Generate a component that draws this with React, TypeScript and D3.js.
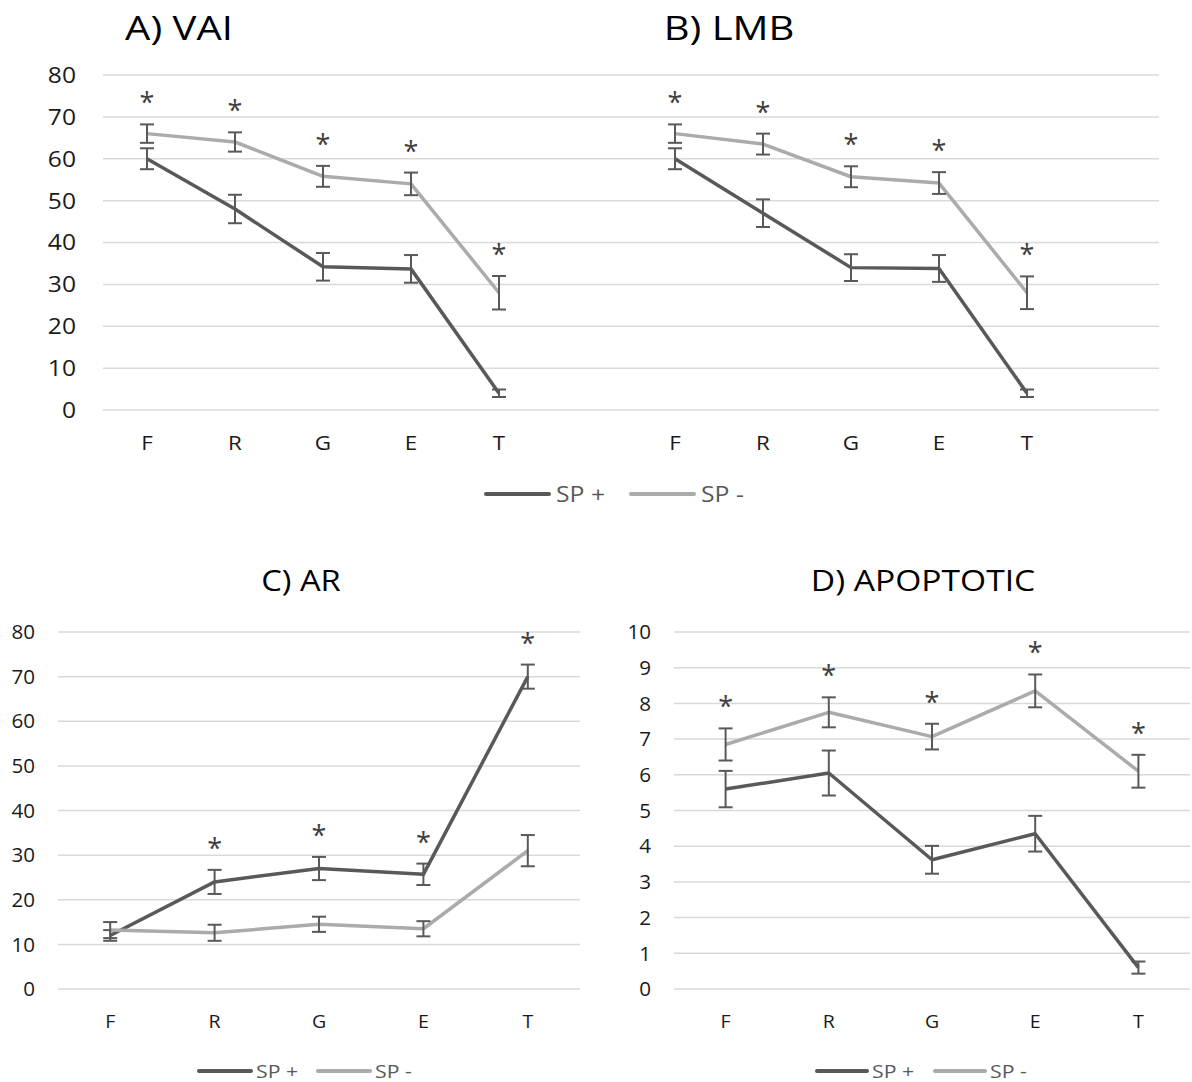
import React from "react";
import * as d3 from "d3";

// ---------- data ----------
const categories = ["F", "R", "G", "E", "T"];

const vaiPlus = [60, 48, 34.2, 33.7, 4];
const vaiPlusErr = [2.5, 3.4, 3.3, 3.3, 0.9];
const vaiMinus = [66, 64, 55.8, 54, 28];
const vaiMinusErr = [2.2, 2.3, 2.5, 2.7, 4];
const vaiSig = [true, true, true, true, true];

const lmbPlus = [60, 47, 34, 33.8, 4];
const lmbPlusErr = [2.5, 3.3, 3.2, 3.2, 0.9];
const lmbMinus = [66, 63.5, 55.7, 54.2, 28];
const lmbMinusErr = [2.2, 2.5, 2.5, 2.6, 3.9];
const lmbSig = [true, true, true, true, true];

const arPlus = [12, 24, 27, 25.7, 70];
const arPlusErr = [1.2, 2.7, 2.6, 2.4, 2.7];
const arMinus = [13.2, 12.6, 14.5, 13.5, 31];
const arMinusErr = [1.8, 1.8, 1.7, 1.7, 3.5];
const arSig = [false, true, true, true, true];

const apoPlus = [5.6, 6.05, 3.62, 4.35, 0.6];
const apoPlusErr = [0.51, 0.63, 0.39, 0.5, 0.17];
const apoMinus = [6.85, 7.75, 7.07, 8.35, 6.1];
const apoMinusErr = [0.45, 0.42, 0.36, 0.46, 0.46];
const apoSig = [true, true, true, true, true];

const ticks80 = [0, 10, 20, 30, 40, 50, 60, 70, 80];
const ticks10 = [0, 1, 2, 3, 4, 5, 6, 7, 8, 9, 10];

const seriesNames = ["SP +", "SP -"];

// ---------- style ----------
const DARK = "#595959";
const LIGHT = "#ababab";
const GRID = "#d9d9d9";
const ERR = "#595959";
const FONT = "'Open Sans', sans-serif";

function T({
  x,
  y,
  sx = 1,
  size,
  anchor = "start",
  fill = "#1a1a1a",
  dy,
  children,
}: {
  x: number;
  y: number;
  sx?: number;
  size: number;
  anchor?: string;
  fill?: string;
  dy?: string;
  children: React.ReactNode;
}) {
  return (
    <text
      transform={`translate(${x},${y}) scale(${sx},1)`}
      textAnchor={anchor}
      fontSize={size}
      fontFamily={FONT}
      fill={fill}
      dy={dy}
    >
      {children}
    </text>
  );
}

type Group = {
  keys: string[];
  plus: number[];
  plusErr: number[];
  minus: number[];
  minusErr: number[];
  sig: boolean[];
};

function SeriesGroup({ g, x, y }: { g: Group; x: d3.ScaleBand<string>; y: d3.ScaleLinear<number, number> }) {
  const cx = (i: number) => (x(g.keys[i]) as number) + x.bandwidth() / 2;
  const line = d3
    .line<number>()
    .x((_, i) => cx(i))
    .y((d) => y(d));
  const errBars = (vals: number[], errs: number[], key: string) =>
    vals.map((v, i) => {
      const xc = cx(i);
      const y1 = y(v + errs[i]);
      const y2 = y(v - errs[i]);
      return (
        <g key={key + i} stroke={ERR} strokeWidth={2}>
          <line x1={xc} x2={xc} y1={y1} y2={y2} />
          <line x1={xc - 7} x2={xc + 7} y1={y1} y2={y1} />
          <line x1={xc - 7} x2={xc + 7} y1={y2} y2={y2} />
        </g>
      );
    });
  return (
    <g>
      <path d={line(g.plus) || ""} fill="none" stroke={DARK} strokeWidth={3.5} strokeLinejoin="round" />
      {errBars(g.plus, g.plusErr, "p")}
      <path d={line(g.minus) || ""} fill="none" stroke={LIGHT} strokeWidth={3.5} strokeLinejoin="round" />
      {errBars(g.minus, g.minusErr, "m")}
      {g.sig.map((s, i) =>
        s ? (
          <T
            key={"s" + i}
            x={cx(i)}
            y={y(Math.max(g.plus[i] + g.plusErr[i], g.minus[i] + g.minusErr[i])) - 12}
            anchor="middle"
            size={27}
            fill="#404040"
          >
            *
          </T>
        ) : null
      )}
    </g>
  );
}

function Chart({
  x,
  y,
  ticks,
  groups,
  labelRight,
  tickFont,
  xLabelY,
  xFont,
  sx,
}: {
  x: d3.ScaleBand<string>;
  y: d3.ScaleLinear<number, number>;
  ticks: number[];
  groups: Group[];
  labelRight: number;
  tickFont: number;
  xLabelY: number;
  xFont: number;
  sx: number;
}) {
  const [x0, x1] = x.range();
  return (
    <g>
      {ticks.map((t) => (
        <g key={t}>
          <line x1={x0} x2={x1} y1={y(t)} y2={y(t)} stroke={GRID} strokeWidth={1.5} />
          <T x={labelRight} y={y(t)} dy="0.36em" anchor="end" size={tickFont} sx={sx}>
            {t}
          </T>
        </g>
      ))}
      {groups.map((g, gi) =>
        g.keys.map((k, i) => (
          <T key={gi + k} x={(x(k) as number) + x.bandwidth() / 2} y={xLabelY} anchor="middle" size={xFont} sx={sx}>
            {categories[i]}
          </T>
        ))
      )}
      {groups.map((g, gi) => (
        <SeriesGroup key={gi} g={g} x={x} y={y} />
      ))}
    </g>
  );
}

function Legend({
  x,
  y,
  lineLen,
  gap,
  fontSize,
  sx,
}: {
  x: number[];
  y: number;
  lineLen: number;
  gap: number;
  fontSize: number;
  sx: number;
}) {
  const colors = [DARK, LIGHT];
  return (
    <g>
      {seriesNames.map((n, i) => (
        <g key={n}>
          <line x1={x[i]} x2={x[i] + lineLen} y1={y} y2={y} stroke={colors[i]} strokeWidth={4} strokeLinecap="round" />
          <T x={x[i] + lineLen + gap} y={y} dy="0.36em" size={fontSize} fill={DARK} sx={sx}>
            {n}
          </T>
        </g>
      ))}
    </g>
  );
}

export default function App() {
  // top combined chart (A and B share one axis)
  const keysA = categories.map((c) => "A" + c);
  const keysB = categories.map((c) => "B" + c);
  const topDomain = [...keysA, "gapA", ...keysB, "gapB"];
  const xTop = d3.scaleBand<string>().domain(topDomain).range([103, 1159]);
  const yTop = d3.scaleLinear().domain([0, 80]).range([410, 75]);

  const keysC = categories.map((c) => "C" + c);
  const keysD = categories.map((c) => "D" + c);
  const xC = d3.scaleBand<string>().domain(keysC).range([58, 580]);
  const yC = d3.scaleLinear().domain([0, 80]).range([989, 632]);
  const xD = d3.scaleBand<string>().domain(keysD).range([674, 1190]);
  const yD = d3.scaleLinear().domain([0, 10]).range([989, 632]);

  const gA: Group = { keys: keysA, plus: vaiPlus, plusErr: vaiPlusErr, minus: vaiMinus, minusErr: vaiMinusErr, sig: vaiSig };
  const gB: Group = { keys: keysB, plus: lmbPlus, plusErr: lmbPlusErr, minus: lmbMinus, minusErr: lmbMinusErr, sig: lmbSig };
  const gC: Group = { keys: keysC, plus: arPlus, plusErr: arPlusErr, minus: arMinus, minusErr: arMinusErr, sig: arSig };
  const gD: Group = { keys: keysD, plus: apoPlus, plusErr: apoPlusErr, minus: apoMinus, minusErr: apoMinusErr, sig: apoSig };

  return (
    <svg
      width={1192}
      height={1082}
      style={{ position: "absolute", left: 0, top: 0, background: "#fff" }}
      fontFamily={FONT}
    >
      <rect width={1192} height={1082} fill="#fff" />
      <T x={179} y={40} anchor="middle" size={32} sx={1.25} fill="#000">
        A) VAI
      </T>
      <T x={729} y={40} anchor="middle" size={32} sx={1.25} fill="#000">
        B) LMB
      </T>
      <Chart
        x={xTop}
        y={yTop}
        ticks={ticks80}
        groups={[gA, gB]}
        labelRight={76}
        tickFont={22}
        xLabelY={450}
        xFont={20}
        sx={1.12}
      />
      <Legend x={[486, 631]} y={494} lineLen={63} gap={7} fontSize={21} sx={1.18} />

      <T x={301} y={591} anchor="middle" size={30} sx={1.09} fill="#000">
        C) AR
      </T>
      <Chart
        x={xC}
        y={yC}
        ticks={ticks80}
        groups={[gC]}
        labelRight={35}
        tickFont={20}
        xLabelY={1028}
        xFont={19}
        sx={1.03}
      />
      <Legend x={[199, 318]} y={1071} lineLen={52} gap={5} fontSize={19} sx={1.12} />

      <T x={923} y={591} anchor="middle" size={30} sx={1.12} fill="#000">
        D) APOPTOTIC
      </T>
      <Chart
        x={xD}
        y={yD}
        ticks={ticks10}
        groups={[gD]}
        labelRight={651}
        tickFont={20}
        xLabelY={1028}
        xFont={19}
        sx={1.03}
      />
      <Legend x={[817, 935]} y={1071} lineLen={50} gap={5} fontSize={19} sx={1.12} />
    </svg>
  );
}
